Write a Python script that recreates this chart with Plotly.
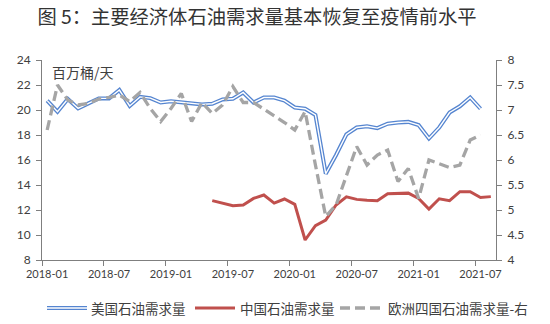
import plotly.graph_objects as go

# Monthly categories, 2018-01 .. 2021-08
months = [f"{y}-{m:02d}" for y in range(2018, 2022) for m in range(1, 13)][:44]

# US oil demand, million barrels per day (2018-01 .. 2021-07), left axis
us_demand = [20.75, 19.87, 20.88, 20.13, 20.53, 20.93, 20.93, 21.6, 20.32, 21.05,
             20.95, 20.6, 20.7, 20.6, 20.5, 20.45, 20.5, 20.85, 20.9, 21.4,
             20.6, 21.0, 21.0, 20.75, 20.2, 20.1, 19.6, 14.9, 16.4, 18.05,
             18.6, 18.7, 18.55, 18.9, 19.0, 19.05, 18.8, 17.72, 18.6, 19.8,
             20.3, 21.0, 20.1]

# China oil demand (2019-05 .. 2021-08), left axis
cn_months = months[16:44]
cn_demand = [12.75, 12.53, 12.35, 12.4, 12.93, 13.2, 12.55, 12.88, 12.45, 9.6,
             10.75, 11.2, 12.4, 13.05, 12.85, 12.78, 12.75, 13.3, 13.33, 13.35,
             12.93, 12.08, 12.9, 12.75, 13.47, 13.47, 13.0, 13.07]

# Four European countries (2018-01 .. 2021-07), right axis
eu_demand = [6.6, 7.5, 7.2, 7.1, 7.13, 7.22, 7.25, 7.3, 7.17, 7.35,
             7.03, 6.77, 7.03, 7.33, 6.77, 7.15, 6.93, 7.1, 7.47, 7.15,
             7.15, 7.02, 6.88, 6.75, 6.6, 6.97, 5.9, 4.87, 5.1, 5.7,
             6.27, 5.9, 6.1, 6.2, 5.57, 5.83, 5.23, 6.0, 5.93, 5.85,
             5.9, 6.4, 6.5]

series_names = ["美国石油需求量", "中国石油需求量", "欧洲四国石油需求量-右"]

BLUE = "#5585D0"
RED = "#C0504D"
GRAY = "#A5A5A5"
TXT = "#404040"
AXIS = "#7F7F7F"
CJK = "Noto Sans CJK SC"
NUM = "Lato"

fig = go.Figure()

# US series drawn as a double line: wide blue stroke with a thin white core
fig.add_trace(go.Scatter(x=months[:len(us_demand)], y=us_demand, mode="lines",
                         line=dict(color=BLUE, width=4), name=series_names[0],
                         showlegend=False, yaxis="y"))
fig.add_trace(go.Scatter(x=months[:len(us_demand)], y=us_demand, mode="lines",
                         line=dict(color="white", width=1.4), showlegend=False,
                         hoverinfo="skip", yaxis="y"))
fig.add_trace(go.Scatter(x=cn_months, y=cn_demand, mode="lines",
                         line=dict(color=RED, width=3), name=series_names[1],
                         showlegend=False, yaxis="y"))
fig.add_trace(go.Scatter(x=months[:len(eu_demand)], y=eu_demand, mode="lines",
                         line=dict(color=GRAY, width=3.3, dash="10px,5px"),
                         name=series_names[2], showlegend=False, yaxis="y2"))

L, R, T, B = 42, 54, 60, 64
W, H = 550, 324
pw, ph = W - L - R, H - T - B


def px(x):
    return (x - L) / pw


def py(y):
    return (H - B - y) / ph


# Legend row
ly = py(308)
shapes = [
    dict(type="line", xref="paper", yref="paper", x0=px(47), x1=px(87), y0=ly, y1=ly,
         line=dict(color=BLUE, width=4)),
    dict(type="line", xref="paper", yref="paper", x0=px(47), x1=px(87), y0=ly, y1=ly,
         line=dict(color="white", width=1.4)),
    dict(type="line", xref="paper", yref="paper", x0=px(195), x1=px(235), y0=ly, y1=ly,
         line=dict(color=RED, width=3)),
    dict(type="line", xref="paper", yref="paper", x0=px(340), x1=px(380), y0=ly, y1=ly,
         line=dict(color=GRAY, width=3.3, dash="10px,5px")),
]
annotations = [
    dict(text=series_names[0], x=px(89), y=ly, xref="paper", yref="paper",
         xanchor="left", yanchor="middle", showarrow=False,
         font=dict(family=CJK, size=13.5, color=TXT)),
    dict(text=series_names[1], x=px(238), y=ly, xref="paper", yref="paper",
         xanchor="left", yanchor="middle", showarrow=False,
         font=dict(family=CJK, size=13.5, color=TXT)),
    dict(text=series_names[2], x=px(386), y=ly, xref="paper", yref="paper",
         xanchor="left", yanchor="middle", showarrow=False,
         font=dict(family=CJK, size=13.5, color=TXT)),
    dict(text="百万桶/天", x=px(50), y=py(72), xref="paper", yref="paper",
         xanchor="left", yanchor="middle", showarrow=False,
         font=dict(family=CJK, size=14, color=TXT)),
]

fig.update_layout(
    width=W, height=H,
    margin=dict(l=L, r=R, t=T, b=B),
    paper_bgcolor="white", plot_bgcolor="white",
    showlegend=False,
    title=dict(text="图 5：主要经济体石油需求量基本恢复至疫情前水平",
               xref="container", yref="container", x=257 / W, xanchor="center",
               y=1 - 17 / H, yanchor="middle",
               font=dict(family=CJK, size=19.3, color="#333333")),
    xaxis=dict(type="category", categoryorder="array", categoryarray=months,
               range=[-0.5, 43.5], tickmode="linear", tick0=0, dtick=6,
               tickson="boundaries", ticks="outside", ticklen=5, tickcolor=AXIS,
               showline=True, linecolor=AXIS, linewidth=1, showgrid=False,
               zeroline=False, tickangle=0, ticklabelstandoff=4,
               tickfont=dict(family=NUM, size=11, color=TXT)),
    yaxis=dict(range=[8, 24], dtick=2, ticks="outside", ticklen=5, tickcolor=AXIS,
               showline=True, linecolor=AXIS, linewidth=1, showgrid=False,
               zeroline=False, ticklabelstandoff=3,
               tickfont=dict(family=NUM, size=12, color=TXT)),
    yaxis2=dict(range=[4, 8], dtick=0.5, overlaying="y", side="right",
                ticks="outside", ticklen=5, tickcolor=AXIS,
                showline=True, linecolor=AXIS, linewidth=1, showgrid=False,
                zeroline=False, ticklabelstandoff=3,
                tickfont=dict(family=NUM, size=12, color=TXT)),
    shapes=shapes,
    annotations=annotations,
)

fig.write_html("out.html")
